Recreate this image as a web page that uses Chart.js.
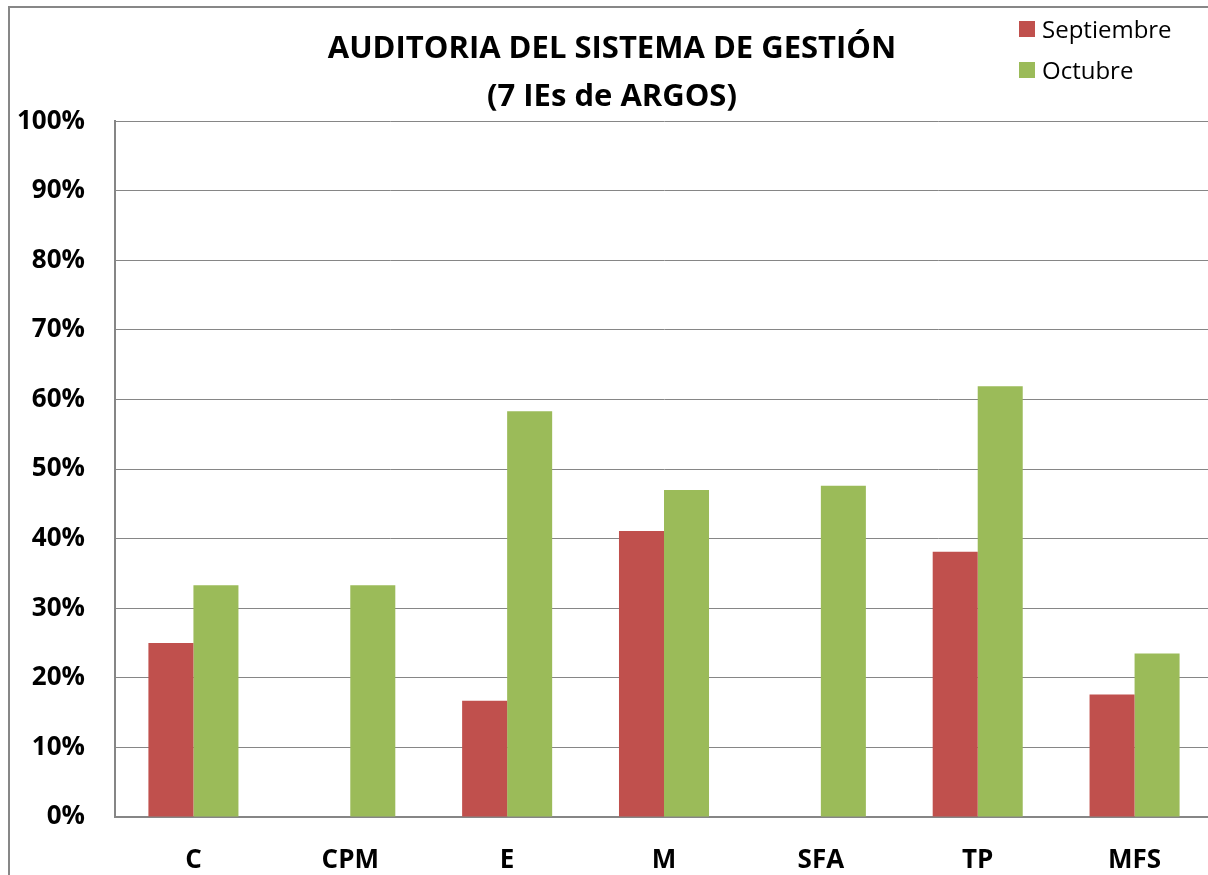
<!DOCTYPE html>
<html>
<head>
<meta charset="utf-8">
<script src="https://cdn.jsdelivr.net/npm/chart.js@4.4.1/dist/chart.umd.min.js"></script>
<style>
  html, body { margin: 0; padding: 0; background: #fff; overflow: hidden; width: 1208px; height: 875px; }
  #frame {
    position: absolute; left: 8px; top: 6px; width: 1300px; height: 900px;
    border-left: 2px solid #878787; border-top: 2px solid #878787;
  }
  #wrap { position: absolute; left: 11px; top: 8px; width: 1202px; height: 867px; }
  #legend { position: absolute; left: 1019px; top: 8px; font: 24px "Open Sans", sans-serif; color: #000; }
  .item { display: flex; align-items: center; height: 41px; }
  .swatch { width: 16px; height: 16px; margin-right: 7px; }
</style>
</head>
<body>
<div id="frame"></div>
<div id="wrap"><canvas id="chart"></canvas></div>
<div id="legend"></div>
<script>
const categories = ["C", "CPM", "E", "M", "SFA", "TP", "MFS"];
const seriesNames = ["Septiembre", "Octubre"];
const septiembre = [25.0, 0, 16.7, 41.1, 0, 38.1, 17.6];
const octubre = [33.3, 33.3, 58.3, 47.0, 47.6, 61.9, 23.5];
const titleLines = ["AUDITORIA DEL SISTEMA DE GESTIÓN", "(7 IEs de ARGOS)"];

const palette = { sep: "#C0504D", oct: "#9BBB59", grid: "#868686" };

const legend = document.getElementById("legend");
[[seriesNames[0], palette.sep], [seriesNames[1], palette.oct]].forEach(([name, color]) => {
  const row = document.createElement("div");
  row.className = "item";
  row.innerHTML = `<span class="swatch" style="background:${color}"></span>${name}`;
  legend.appendChild(row);
});

const tickFont = { family: "'Open Sans', sans-serif", size: 26, weight: "bold" };

new Chart(document.getElementById("chart").getContext("2d"), {
  type: "bar",
  data: {
    labels: categories,
    datasets: [
      { label: seriesNames[0], data: septiembre, backgroundColor: palette.sep },
      { label: seriesNames[1], data: octubre, backgroundColor: palette.oct }
    ]
  },
  options: {
    responsive: true,
    maintainAspectRatio: false,
    animation: false,
    categoryPercentage: 0.574,
    barPercentage: 1,
    layout: { padding: { top: 0, right: 0, bottom: 0, left: 0 } },
    plugins: {
      legend: { display: false },
      tooltip: { enabled: false },
      title: {
        display: true,
        text: titleLines,
        color: "#000",
        font: { family: "'Open Sans', sans-serif", size: 31, weight: "bold", lineHeight: 1.55 },
        padding: { top: 17, bottom: 0 }
      }
    },
    scales: {
      x: {
        grid: { display: false },
        border: { color: palette.grid, width: 2 },
        ticks: { color: "#000", font: tickFont, padding: 20 },
        afterFit: scale => { scale.height = 58; }
      },
      y: {
        min: 0,
        max: 100,
        grid: { color: palette.grid, lineWidth: 1, drawTicks: false },
        border: { color: palette.grid, width: 2 },
        ticks: { stepSize: 10, color: "#000", font: tickFont, padding: 30, callback: v => v + "%" },
        afterFit: scale => { scale.width = 104; }
      }
    }
  }
});
</script>
</body>
</html>
